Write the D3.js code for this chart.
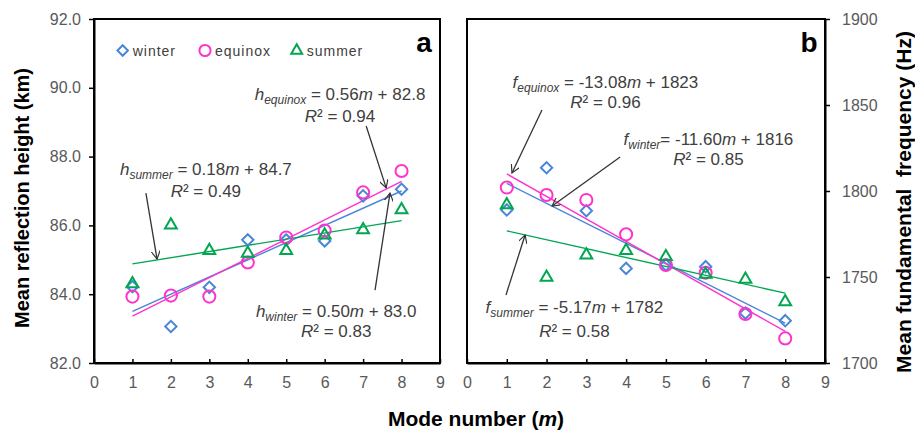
<!DOCTYPE html>
<html><head><meta charset="utf-8">
<script src="https://cdn.jsdelivr.net/npm/d3@7"></script>
<style>
html,body{margin:0;padding:0;background:#fff;}
svg{display:block;font-family:"Liberation Sans",Arial,sans-serif;}
</style></head>
<body><svg id="c" width="915" height="433"></svg>
<script>
// ---- data ----
const modes = [1,2,3,4,5,6,7,8];
const seasons = ["winter","equinox","summer"];
// panel a: mean reflection height (km)
const heightWinter  = [84.22, 83.06, 84.20, 85.58, 85.58, 85.55, 86.86, 87.05];
const heightEquinox = [83.93, 83.96, 83.93, 84.92, 85.65, 85.85, 86.96, 87.58];
const heightSummer  = [84.30, 86.01, 85.27, 85.19, 85.27, 85.72, 85.87, 86.45];
// panel b: mean fundamental frequency (Hz)
const freqWinter  = [1789, 1813.5, 1788.5, 1755, 1757, 1756, 1729, 1724.6];
const freqEquinox = [1802, 1797.7, 1794.8, 1774.8, 1757, 1752.5, 1728.5, 1714.3];
const freqSummer  = [1791.9, 1749.8, 1762.8, 1765.3, 1761.8, 1751.6, 1748.6, 1735.6];
// linear fits [slope, intercept]
const fitHeight = {winter:[0.50,83.0], equinox:[0.56,82.8], summer:[0.18,84.7]};
const fitFreq   = {winter:[-11.60,1816], equinox:[-13.08,1823], summer:[-5.17,1782]};
const r2Height  = {winter:"0.83", equinox:"0.94", summer:"0.49"};
const r2Freq    = {winter:"0.85", equinox:"0.96", summer:"0.58"};
const eqHeight  = {winter:"0.50", equinox:"0.56", summer:"0.18"};
const eqHeightB = {winter:"83.0", equinox:"82.8", summer:"84.7"};
const eqFreq    = {winter:"-11.60", equinox:"-13.08", summer:"-5.17"};
const eqFreqB   = {winter:"1816", equinox:"1823", summer:"1782"};
const xTicks = [0,1,2,3,4,5,6,7,8,9];
const hTicks = [82,84,86,88,90,92];
const fTicks = [1700,1750,1800,1850,1900];

const color = {winter:"#4a86d8", equinox:"#ff33cc", summer:"#00a650"};
const symbolOf = {winter:d3.symbolDiamond2, equinox:d3.symbolCircle, summer:d3.symbolTriangle2};
const symSize = {winter:82, equinox:115, summer:100};

const svg = d3.select("#c");
const defs = svg.append("defs");
defs.append("marker").attr("id","arr").attr("viewBox","0 0 10 10")
  .attr("refX",9).attr("refY",5).attr("markerWidth",9).attr("markerHeight",9)
  .attr("markerUnits","userSpaceOnUse").attr("orient","auto")
  .append("path").attr("d","M0,0 L9,5 L0,10").attr("fill","none")
  .attr("stroke","#333").attr("stroke-width",1.3);

function panel(cfg){
  const x = d3.scaleLinear().domain([0,9]).range(cfg.xr);
  const y = d3.scaleLinear().domain(cfg.yd).range([363,19]);
  const g = svg.append("g");
  // frame
  g.append("rect").attr("x",cfg.xr[0]).attr("y",19)
    .attr("width",cfg.xr[1]-cfg.xr[0]).attr("height",344)
    .attr("fill","none").attr("stroke","#000").attr("stroke-width",2);
  // x axis
  const xa = g.append("g").attr("transform","translate(0,363)")
    .call(d3.axisBottom(x).tickValues(xTicks).tickSizeInner(-4).tickSizeOuter(0).tickPadding(14));
  // y axis
  const ya = g.append("g").attr("transform",`translate(${cfg.yAxisX},0)`)
    .call(cfg.axis(y).tickValues(cfg.yTicks).tickSize(5).tickSizeOuter(0)
      .tickPadding(cfg.tp).tickFormat(cfg.fmt));
  [xa,ya].forEach(a=>{
    a.select(".domain").attr("stroke","#000").attr("stroke-width",2);
    a.selectAll(".tick line").attr("stroke","#000").attr("stroke-width",1.5);
    a.selectAll(".tick text").attr("fill","#595959").attr("font-size",16)
      .attr("font-family","Liberation Sans, Arial, sans-serif");
  });
  // fit lines
  seasons.forEach(s=>{
    const [a,b] = cfg.fit[s];
    g.append("line").attr("x1",x(1)).attr("x2",x(8))
      .attr("y1",y(a*1+b)).attr("y2",y(a*8+b))
      .attr("stroke",color[s]).attr("stroke-width",1.4);
  });
  // points
  seasons.forEach(s=>{
    g.selectAll(null).data(modes.map((m,i)=>[m,cfg.vals[s][i]])).join("path")
      .attr("transform",d=>`translate(${x(d[0])},${y(d[1])})`)
      .attr("d",d3.symbol().type(symbolOf[s]).size(symSize[s]))
      .attr("fill","none").attr("stroke",color[s]).attr("stroke-width",2);
  });
  // annotations
  cfg.notes.forEach(n=>{
    const t = g.append("text").attr("x",x(n.tx)).attr("y",y(n.ty))
      .attr("text-anchor","middle").attr("fill","#404040")
      .attr("font-family","Liberation Sans Narrow, Liberation Sans, Arial, sans-serif")
      .attr("font-size",17);
    t.append("tspan").attr("font-style","italic").text(cfg.v);
    t.append("tspan").attr("font-style","italic").attr("font-size",12).attr("dy",4).text(n.s);
    t.append("tspan").attr("dy",-4).text(n.gap + "= " + cfg.eq[n.s]);
    t.append("tspan").attr("font-style","italic").text("m");
    t.append("tspan").text(cfg.sp + "+ " + cfg.eqB[n.s]);
    const r = g.append("text").attr("x",x(n.tx)).attr("y",y(n.ry))
      .attr("text-anchor","middle").attr("fill","#404040")
      .attr("font-family","Liberation Sans Narrow, Liberation Sans, Arial, sans-serif")
      .attr("font-size",17);
    r.append("tspan").attr("font-style","italic").text("R");
    r.append("tspan").text("² = " + cfg.r2[n.s]);
    g.append("line").attr("x1",x(n.a[0])).attr("y1",y(n.a[1]))
      .attr("x2",x(n.a[2])).attr("y2",y(n.a[3]))
      .attr("stroke","#333").attr("stroke-width",1.3).attr("marker-end","url(#arr)");
  });
  // panel letter
  g.append("text").attr("x",cfg.xr[1]-16).attr("y",52).attr("text-anchor","middle")
    .attr("font-size",28).attr("font-weight","bold").attr("fill","#000").text(cfg.letter);
  return {x,y,g};
}

const pa = panel({
  xr:[94,440], yd:[82,92], yAxisX:94, axis:d3.axisLeft, yTicks:hTicks, tp:8,
  fmt:d3.format(".1f"), fit:fitHeight, letter:"a", v:"h", eq:eqHeight, eqB:eqHeightB, r2:r2Height, sp:" ",
  vals:{winter:heightWinter, equinox:heightEquinox, summer:heightSummer},
  notes:[
    {s:"equinox", tx:6.40, ty:89.65, ry:89.01, gap:" ", a:[7.08,88.89,7.60,87.09]},
    {s:"summer",  tx:2.91, ty:87.47, ry:86.83, gap:" ", a:[1.35,86.94,1.64,85.02]},
    {s:"winter",  tx:6.30, ty:83.34, ry:82.76, gap:" ", a:[7.31,84.12,7.70,86.94]}
  ]
});
const pb = panel({
  xr:[467,825], yd:[1700,1900], yAxisX:825, axis:d3.axisRight, yTicks:fTicks, tp:12,
  fmt:d3.format("d"), fit:fitFreq, letter:"b", v:"f", eq:eqFreq, eqB:eqFreqB, r2:r2Freq, sp:"  ",
  vals:{winter:freqWinter, equinox:freqEquinox, summer:freqSummer},
  notes:[
    {s:"equinox", tx:3.48, ty:1859.9, ry:1848.3, gap:" ", a:[1.885,1847.1,1.13,1810.5]},
    {s:"winter",  tx:6.07, ty:1826.7, ry:1815.1, gap:"",  a:[3.85,1819.8,2.14,1791.3]},
    {s:"summer",  tx:2.70, ty:1729.1, ry:1715.1, gap:" ", a:[0.98,1739.5,1.46,1774.4]}
  ]
});

// legend (panel a)
const lg = svg.append("g");
const legX = [122.7, 205, 296.7];
seasons.forEach((s,i)=>{
  lg.append("path").attr("transform",`translate(${legX[i]},50.5)`)
    .attr("d",d3.symbol().type(symbolOf[s]).size(symSize[s]*0.85))
    .attr("fill","none").attr("stroke",color[s]).attr("stroke-width",2);
  lg.append("text").attr("x",legX[i]+10).attr("y",55.5).attr("font-size",14)
    .attr("letter-spacing",1).attr("fill","#404040").text(s);
});

// axis titles
svg.append("text").attr("transform","translate(29,198) rotate(-90)")
  .attr("text-anchor","middle").attr("font-size",20).attr("font-weight","bold").attr("fill","#000")
  .text("Mean reflection height (km)");
svg.append("text").attr("transform","translate(911,202) rotate(-90)")
  .attr("text-anchor","middle").attr("font-size",21).attr("font-weight","bold").attr("fill","#000")
  .attr("xml:space","preserve").style("white-space","pre")
  .text("Mean fundamental  frequency (Hz)");
const xt = svg.append("text").attr("x",476).attr("y",426).attr("text-anchor","middle")
  .attr("font-size",21).attr("font-weight","bold").attr("fill","#000");
xt.append("tspan").text("Mode number (");
xt.append("tspan").attr("font-style","italic").text("m");
xt.append("tspan").text(")");
</script></body></html>
